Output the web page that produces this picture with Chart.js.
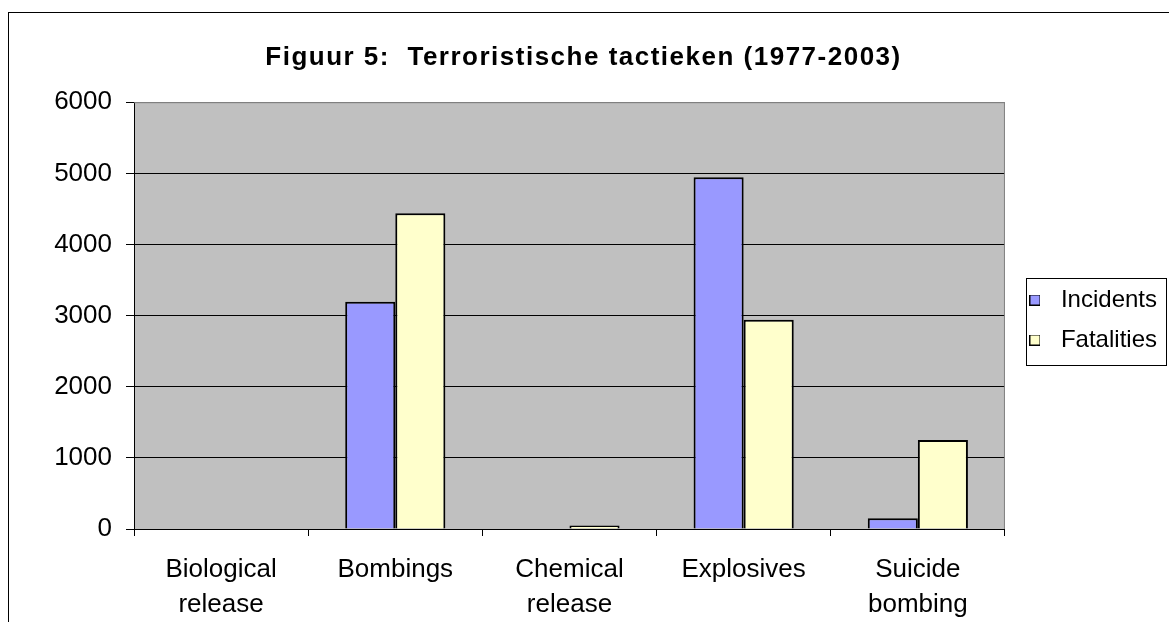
<!DOCTYPE html>
<html>
<head>
<meta charset="utf-8">
<script src="https://cdn.jsdelivr.net/npm/chart.js@4.4.1/dist/chart.umd.min.js"></script>
<style>
  html, body { margin: 0; padding: 0; background: #fff; overflow: hidden; }
  #wrap { position: absolute; left: 0; top: 0; width: 1169px; height: 622px; }
</style>
</head>
<body>
<div id="wrap"><canvas id="c" width="1169" height="622"></canvas></div>
<script>
const titleText = 'Figuur 5:  Terroristische tactieken (1977-2003)';
const categories = [['Biological', 'release'], 'Bombings', ['Chemical', 'release'], 'Explosives', ['Suicide', 'bombing']];
const seriesNames = ['Incidents', 'Fatalities'];
const incidents = [0, 3195, 0, 4945, 150];
const fatalities = [0, 4440, 50, 2940, 1250];
const yTicks = [0, 1000, 2000, 3000, 4000, 5000, 6000];

const FONT = '"Liberation Sans", Arial, Helvetica, sans-serif';
const colors = ['#9999FF', '#FFFFCC'];

function swatch(color) {
  const c = document.createElement('canvas');
  c.width = 11; c.height = 11;
  const x = c.getContext('2d');
  x.fillStyle = color; x.fillRect(0, 0, 11, 11);
  x.strokeStyle = '#000'; x.lineWidth = 1; x.strokeRect(0.5, 0.5, 10, 10);
  return c;
}
const swatches = colors.map(swatch);

const decor = {
  id: 'decor',
  beforeDraw(chart) {
    const {ctx, chartArea: a} = chart;
    ctx.save();
    ctx.fillStyle = '#fff';
    ctx.fillRect(0, 0, chart.width, chart.height);
    ctx.strokeStyle = '#000';
    ctx.lineWidth = 1;
    ctx.strokeRect(8.5, 12.5, 1400, 900);
    ctx.fillStyle = '#C0C0C0';
    ctx.fillRect(a.left, a.top, a.right - a.left, a.bottom - a.top);
    ctx.restore();
  },
  afterDraw(chart) {
    const {ctx, chartArea: a, legend} = chart;
    ctx.save();
    ctx.strokeStyle = '#808080';
    ctx.lineWidth = 1;
    ctx.beginPath();
    ctx.moveTo(a.left, a.top + 0.5);
    ctx.lineTo(a.right - 0.5, a.top + 0.5);
    ctx.lineTo(a.right - 0.5, a.bottom);
    ctx.stroke();
    if (legend && legend.legendHitBoxes && legend.legendHitBoxes.length) {
      const hb = legend.legendHitBoxes;
      const l = Math.round(hb[0].left) + 5.5;
      const t = Math.round(hb[0].top + hb[0].height / 2) - 21.5;
      const b = Math.round(hb[hb.length - 1].top + hb[hb.length - 1].height / 2) + 25.5;
      const r = 1166.5;
      ctx.strokeStyle = '#000';
      ctx.strokeRect(l, t, r - l, b - t);
    }
    ctx.restore();
  }
};

const chart = new Chart(document.getElementById('c'), {
  type: 'bar',
  data: {
    labels: categories,
    datasets: [
      { label: seriesNames[0], data: incidents, backgroundColor: colors[0], borderColor: '#000', borderWidth: 2 },
      { label: seriesNames[1], data: fatalities, backgroundColor: colors[1], borderColor: '#000', borderWidth: 2 }
    ]
  },
  options: {
    responsive: false,
    animation: false,
    devicePixelRatio: 1,
    categoryPercentage: 0.575,
    barPercentage: 1.0,
    layout: { padding: { left: 0, right: 2, top: 0, bottom: 0 } },
    plugins: {
      tooltip: { enabled: false },
      title: {
        display: true,
        text: titleText,
        color: '#000',
        font: { family: FONT, size: 26, weight: 'bold', lineHeight: 1.2 },
        padding: { top: 42, bottom: 29 }
      },
      legend: {
        position: 'right',
        align: 'center',
        title: { display: true, text: ' ', padding: 0, font: { family: FONT, size: 18, lineHeight: 1 } },
        labels: {
          color: '#000',
          font: { family: FONT, size: 24 },
          padding: 16,
          usePointStyle: true,
          pointStyleWidth: 28,
          boxHeight: 11,
          generateLabels(ch) {
            const items = Chart.defaults.plugins.legend.labels.generateLabels(ch);
            items.forEach((it, i) => { it.pointStyle = swatches[i]; });
            return items;
          }
        }
      }
    },
    scales: {
      x: {
        afterFit(s) { s.height = 93; },
        grid: { offset: true, drawOnChartArea: false, drawTicks: true, tickLength: 7, color: '#000', tickColor: '#000' },
        border: { color: '#000', width: 1 },
        ticks: { color: '#000', padding: 16, maxRotation: 0, autoSkip: false, font: { family: FONT, size: 26, lineHeight: 1.35 } }
      },
      y: {
        min: 0, max: 6000,
        afterFit(s) { s.width = 134; },
        afterBuildTicks(s) { s.ticks = yTicks.map(v => ({ value: v })); },
        grid: {
          color: (c) => (c.tick && c.tick.value === 6000 ? '#808080' : '#000'),
          tickColor: '#000',
          tickLength: 8,
          lineWidth: 1
        },
        border: { color: '#000', width: 1 },
        ticks: { color: '#000', padding: 14, font: { family: FONT, size: 26 }, callback: (v) => String(v) }
      }
    }
  },
  plugins: [decor]
});

// letter spacing for the title, as in the reference
if (chart.titleBlock) {
  const tb = chart.titleBlock;
  const orig = tb.draw.bind(tb);
  tb.draw = function (area) {
    const ctx = chart.ctx;
    ctx.save();
    try { ctx.letterSpacing = '1.5px'; } catch (e) {}
    orig(area);
    ctx.restore();
  };
  chart.draw();
}
</script>
</body>
</html>
